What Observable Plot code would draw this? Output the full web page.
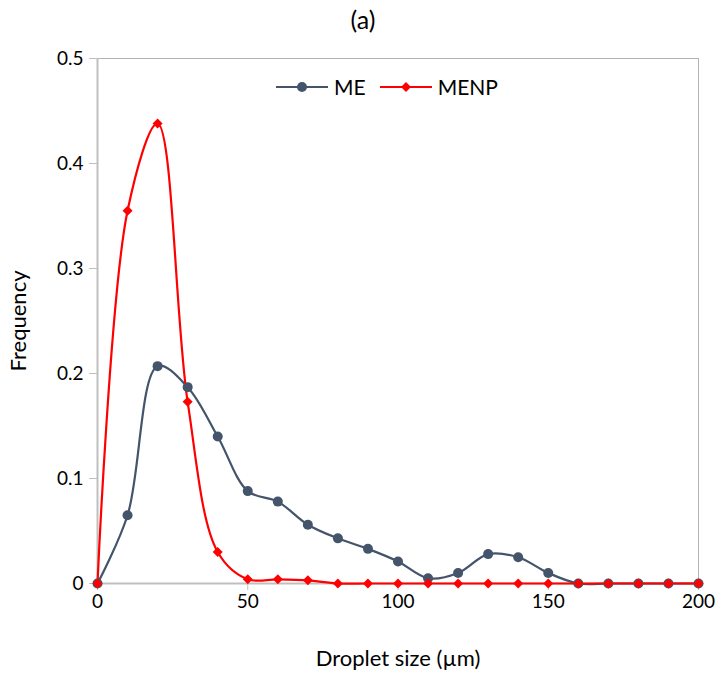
<!DOCTYPE html>
<html>
<head>
<meta charset="utf-8">
<script src="https://cdn.jsdelivr.net/npm/d3@7"></script>
<script src="https://cdn.jsdelivr.net/npm/@observablehq/plot@0.6"></script>
<style>
  html, body { margin: 0; padding: 0; background: #fff; }
  #wrap { position: relative; width: 718px; height: 674px; font-family: Lato, "Open Sans", sans-serif; }
  #title { position: absolute; top: 4px; left: 0; width: 726px; text-align: center; font-size: 25px; color: #000; }
  #legend { position: absolute; top: 74px; left: 276px; display: flex; align-items: center; font-size: 21px; color: #000; }
  #legend .item { display: flex; align-items: center; margin-right: 14px; }
  #legend svg { margin-right: 6px; }
</style>
</head>
<body>
<div id="wrap">
  <div id="title">(a)</div>
  <div id="legend"></div>
</div>
<script>
const sizes = [0,10,20,30,40,50,60,70,80,90,100,110,120,130,140,150,160,170,180,190,200];
const ME   = [0,0.065,0.207,0.187,0.140,0.088,0.078,0.056,0.043,0.033,0.021,0.005,0.010,0.028,0.025,0.010,0,0,0,0,0];
const MENP = [0,0.355,0.438,0.173,0.030,0.004,0.004,0.003,0,0,0,0,0,0,0,0,0,0,0,0,0];
const seriesNames = ["ME", "MENP"];
const seriesColors = ["#44546A", "#FF0000"];
const xTicks = [0,50,100,150,200];
const yTicks = [0,0.1,0.2,0.3,0.4,0.5];

const meData = sizes.map((s, i) => ({size: s, freq: ME[i]}));
const menpData = sizes.map((s, i) => ({size: s, freq: MENP[i]}));

const grid = "#bfbfbf";
const chart = Plot.plot({
  width: 718,
  height: 674,
  marginLeft: 97,
  marginRight: 20,
  marginTop: 58,
  marginBottom: 91,
  style: {fontFamily: "Lato, 'Open Sans', sans-serif", fontSize: "22px", background: "transparent", overflow: "visible"},
  x: {domain: [0, 200]},
  y: {domain: [0, 0.5]},
  marks: [
    Plot.frame({stroke: "#b3b3b3"}),
    Plot.axisX({ticks: xTicks, tickSize: 7, tickPadding: 4, stroke: grid, fill: "#000", fontSize: 19,
      label: null}),
    Plot.axisX({ticks: [], label: "Droplet size (µm)", labelAnchor: "center", labelArrow: "none", labelOffset: 82, fill: "#000", fontSize: 22}),
    Plot.axisY({ticks: yTicks, tickSize: 8, tickPadding: 6, stroke: grid, fill: "#000", fontSize: 19,
      tickFormat: d => d === 0 ? "0" : d3.format(".1f")(d), label: null}),
    Plot.axisY({ticks: [], label: "Frequency", labelAnchor: "center", labelArrow: "none", labelOffset: 87, fill: "#000", fontSize: 22}),
    Plot.ruleY([0], {stroke: grid, strokeWidth: 2}),
    Plot.ruleX([0], {stroke: grid, strokeWidth: 2}),
    Plot.line(meData, {x: "size", y: "freq", stroke: seriesColors[0], strokeWidth: 2.2, curve: "catmull-rom"}),
    Plot.line(menpData, {x: "size", y: "freq", stroke: seriesColors[1], strokeWidth: 2.2, curve: "catmull-rom"}),
    Plot.dot(meData, {x: "size", y: "freq", r: 5, fill: seriesColors[0], stroke: null, symbol: "circle"}),
    Plot.dot(menpData, {x: "size", y: "freq", r: 4.5, fill: seriesColors[1], stroke: null, symbol: "diamond2"})
  ]
});
chart.style.position = "absolute";
chart.style.left = "0";
chart.style.top = "0";
document.getElementById("wrap").prepend(chart);

// legend
const legend = document.getElementById("legend");
seriesNames.forEach((name, i) => {
  const item = document.createElement("div");
  item.className = "item";
  const marker = i === 0
    ? `<circle cx="26" cy="8" r="5" fill="${seriesColors[i]}"/>`
    : `<path d="M26 3 L31 8 L26 13 L21 8 Z" fill="${seriesColors[i]}"/>`;
  item.innerHTML = `<svg width="52" height="16"><line x1="0" x2="52" y1="8" y2="8" stroke="${seriesColors[i]}" stroke-width="2.2"/>${marker}</svg><span>${name}</span>`;
  legend.appendChild(item);
});
</script>
</body>
</html>
